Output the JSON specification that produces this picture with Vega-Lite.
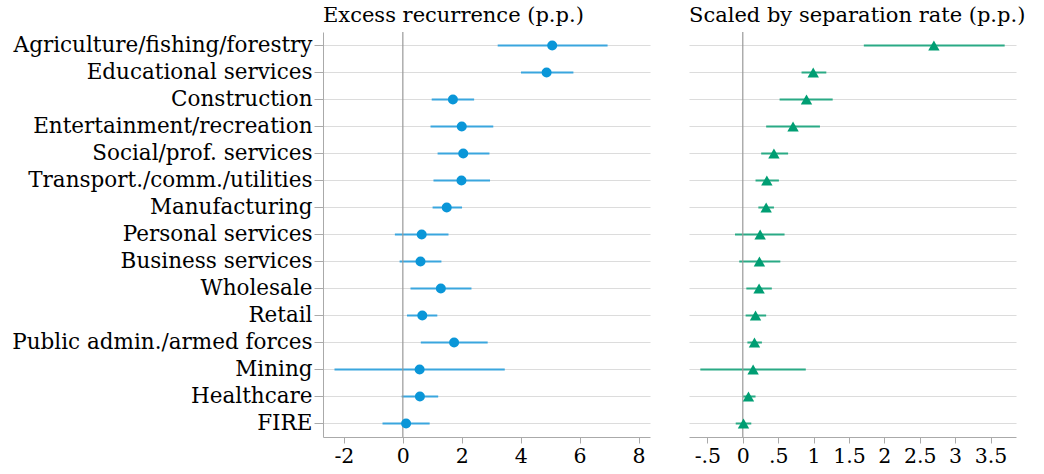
{
  "$schema": "https://vega.github.io/schema/vega-lite/v6.json",
  "padding": {"left": 5, "top": 5, "right": 5, "bottom": 0},
  "background": "white",
  "config": {
    "font": "DejaVu Serif",
    "view": {"stroke": null},
    "axis": {
      "labelFont": "DejaVu Serif",
      "labelFontSize": 20.5,
      "labelColor": "#000",
      "domainColor": "#aaa",
      "tickColor": "#aaa",
      "gridColor": "#dcdcdc",
      "gridWidth": 1.2
    },
    "title": {"font": "DejaVu Serif", "fontSize": 21, "fontWeight": "normal", "anchor": "start", "frame": "group", "color": "#000", "offset": 5},
    "concat": {"spacing": 39}
  },
  "datasets": {
    "excess": [
      {"industry": "Agriculture/fishing/forestry", "est": 5.07, "lo": 3.22, "hi": 6.95},
      {"industry": "Educational services", "est": 4.88, "lo": 4.01, "hi": 5.79},
      {"industry": "Construction", "est": 1.70, "lo": 0.98, "hi": 2.42},
      {"industry": "Entertainment/recreation", "est": 2.00, "lo": 0.94, "hi": 3.07},
      {"industry": "Social/prof. services", "est": 2.05, "lo": 1.18, "hi": 2.94},
      {"industry": "Transport./comm./utilities", "est": 1.99, "lo": 1.04, "hi": 2.96},
      {"industry": "Manufacturing", "est": 1.49, "lo": 1.01, "hi": 2.01},
      {"industry": "Personal services", "est": 0.64, "lo": -0.27, "hi": 1.55},
      {"industry": "Business services", "est": 0.60, "lo": -0.11, "hi": 1.31},
      {"industry": "Wholesale", "est": 1.29, "lo": 0.26, "hi": 2.33},
      {"industry": "Retail", "est": 0.66, "lo": 0.14, "hi": 1.17},
      {"industry": "Public admin./armed forces", "est": 1.74, "lo": 0.61, "hi": 2.88},
      {"industry": "Mining", "est": 0.57, "lo": -2.32, "hi": 3.46},
      {"industry": "Healthcare", "est": 0.58, "lo": -0.04, "hi": 1.20},
      {"industry": "FIRE", "est": 0.11, "lo": -0.69, "hi": 0.91}
    ],
    "scaled": [
      {"industry": "Agriculture/fishing/forestry", "est": 2.70, "lo": 1.71, "hi": 3.70},
      {"industry": "Educational services", "est": 0.995, "lo": 0.83, "hi": 1.18},
      {"industry": "Construction", "est": 0.90, "lo": 0.52, "hi": 1.27},
      {"industry": "Entertainment/recreation", "est": 0.71, "lo": 0.33, "hi": 1.09},
      {"industry": "Social/prof. services", "est": 0.44, "lo": 0.26, "hi": 0.64},
      {"industry": "Transport./comm./utilities", "est": 0.34, "lo": 0.18, "hi": 0.51},
      {"industry": "Manufacturing", "est": 0.33, "lo": 0.22, "hi": 0.44},
      {"industry": "Personal services", "est": 0.245, "lo": -0.11, "hi": 0.59},
      {"industry": "Business services", "est": 0.235, "lo": -0.05, "hi": 0.53},
      {"industry": "Wholesale", "est": 0.23, "lo": 0.05, "hi": 0.41},
      {"industry": "Retail", "est": 0.18, "lo": 0.04, "hi": 0.33},
      {"industry": "Public admin./armed forces", "est": 0.165, "lo": 0.065, "hi": 0.27},
      {"industry": "Mining", "est": 0.146, "lo": -0.60, "hi": 0.89},
      {"industry": "Healthcare", "est": 0.08, "lo": 0.005, "hi": 0.18},
      {"industry": "FIRE", "est": 0.01, "lo": -0.10, "hi": 0.12}
    ],
    "zero": [{"z": 0}]
  },
  "hconcat": [
    {
      "width": 327,
      "height": 405,
      "title": {"text": "Excess recurrence (p.p.)"},
      "layer": [
        {
          "data": {"name": "excess"},
          "mark": {"type": "rule", "color": "#3aa6de", "strokeWidth": 2},
          "encoding": {
            "y": {"field": "industry", "type": "nominal", "sort": null,
              "axis": {"title": null, "grid": true, "domain": true, "ticks": true, "tickSize": 9, "labelPadding": 2, "labelFontSize": 21.5, "minExtent": 318, "maxExtent": 318, "labelLimit": 400}},
            "x": {"field": "lo", "type": "quantitative", "scale": {"domain": [-2.71, 8.39], "nice": false, "zero": false},
              "axis": {"title": null, "values": [-2, 0, 2, 4, 6, 8], "grid": false, "tickSize": 6, "labelPadding": 3, "labelExpr": "replace(datum.label, '\u2212', '-')"}},
            "x2": {"field": "hi"}
          }
        },
        {
          "data": {"name": "zero"},
          "mark": {"type": "rule", "color": "#999", "strokeWidth": 1.2},
          "encoding": {"x": {"field": "z", "type": "quantitative"}}
        },
        {
          "data": {"name": "excess"},
          "mark": {"type": "point", "shape": "circle", "filled": true, "size": 100, "color": "#0a96d8", "opacity": 1},
          "encoding": {
            "y": {"field": "industry", "type": "nominal", "sort": null},
            "x": {"field": "est", "type": "quantitative"}
          }
        }
      ]
    },
    {
      "width": 327,
      "height": 405,
      "title": {"text": "Scaled by separation rate (p.p.)"},
      "layer": [
        {
          "data": {"name": "scaled"},
          "mark": {"type": "rule", "color": "#2aaa85", "strokeWidth": 2},
          "encoding": {
            "y": {"field": "industry", "type": "nominal", "sort": null,
              "axis": {"title": null, "grid": true, "domain": false, "ticks": false, "labels": false, "minExtent": 0, "maxExtent": 0}},
            "x": {"field": "lo", "type": "quantitative", "scale": {"domain": [-0.76, 3.86], "nice": false, "zero": false},
              "axis": {"title": null, "values": [-0.5, 0, 0.5, 1, 1.5, 2, 2.5, 3, 3.5], "grid": false, "tickSize": 6, "labelPadding": 3,
                "labelExpr": "replace(replace(format(datum.value, '~g'), '0.', '.'), '\u2212', '-')"}},
            "x2": {"field": "hi"}
          }
        },
        {
          "data": {"name": "zero"},
          "mark": {"type": "rule", "color": "#999", "strokeWidth": 1.2},
          "encoding": {"x": {"field": "z", "type": "quantitative"}}
        },
        {
          "data": {"name": "scaled"},
          "mark": {"type": "point", "shape": "triangle-up", "filled": true, "size": 130, "color": "#009e73", "opacity": 1},
          "encoding": {
            "y": {"field": "industry", "type": "nominal", "sort": null},
            "x": {"field": "est", "type": "quantitative"}
          }
        }
      ]
    }
  ]
}
